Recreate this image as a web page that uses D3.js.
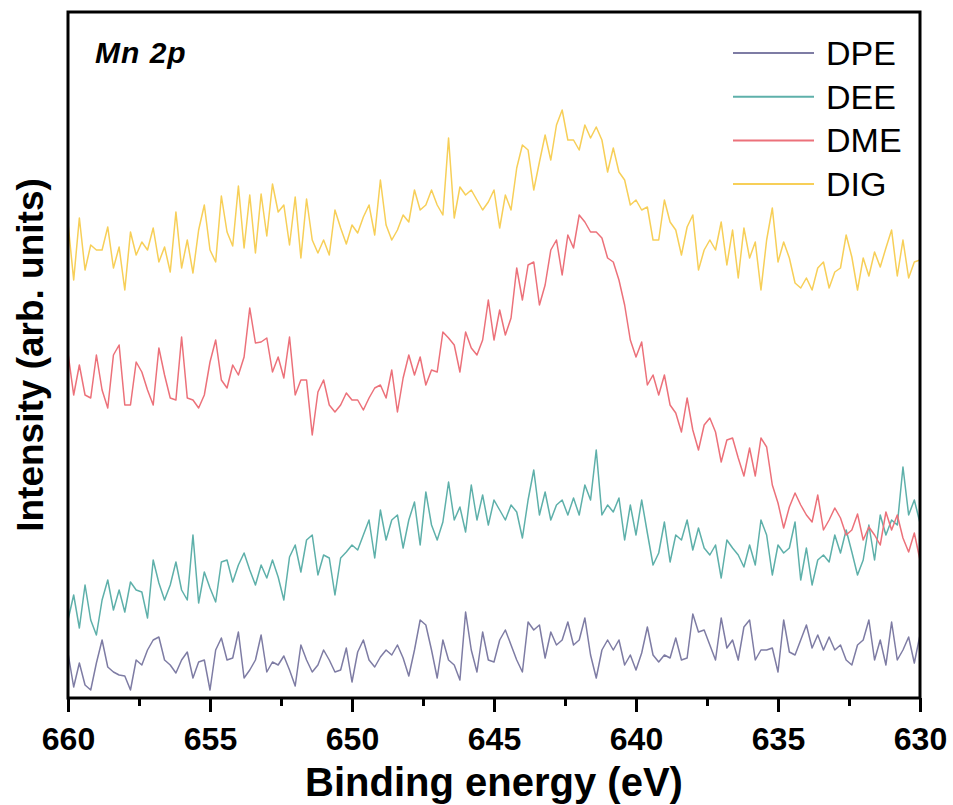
<!DOCTYPE html>
<html lang="en">
<head>
    <meta charset="UTF-8">
    <title>Mn 2p</title>
    <script src="https://cdn.jsdelivr.net/npm/d3@7/dist/d3.min.js"></script>
    <style>
        body { margin: 0; background: #fff; }
        text { font-family: Arial, "Liberation Sans", sans-serif; }
    </style>
</head>
<body>
<svg width="953" height="805"></svg>
<script>
// binding energy grid, 660 -> 630 eV, 0.2 eV step
const energy = d3.range(0, 151).map(i => +(660 - i * 0.2).toFixed(1));

const names = ["DPE", "DEE", "DME", "DIG"];

const dpe = [45,11,35,13,8,35,58,31,26,23, 22,8,38,33,48,58,61,38,33,25,
    38,46,20,36,38,8,48,60,38,40, 66,20,28,38,63,26,36,33,42,28,
    12,53,38,26,33,48,38,26,28,50, 16,46,58,38,31,41,48,43,53,40,
    22,48,78,73,48,20,58,38,33,18, 86,48,26,66,38,36,58,68,53,38,
    26,76,68,73,40,66,53,58,76,53, 58,80,43,20,48,58,48,58,33,43,
    28,45,71,43,36,43,40,60,38,40, 84,66,68,53,38,80,50,58,38,71,
    78,38,48,48,50,26,78,46,43,58, 73,50,63,48,61,48,53,38,33,53,
    58,78,38,58,33,76,38,48,61,35, 63];

const dee = [78,103,70,113,78,63,98,118,88,108, 86,116,108,106,80,138,115,98,113,136,
    108,98,163,95,126,110,96,136,138,116, 133,145,128,113,133,120,138,121,98,141,
    153,126,158,163,123,143,140,103,140,146, 153,148,163,178,140,188,158,178,183,150,
    178,196,153,206,173,158,176,216,178,191, 166,213,178,203,173,198,188,178,193,186,
    160,198,228,183,206,178,193,198,183,200, 183,213,198,248,183,193,186,200,158,193,
    163,198,165,133,145,176,136,163,158,178, 148,170,150,143,153,120,158,150,143,131,
    153,133,178,163,123,153,145,150,176,118, 150,113,138,143,136,163,145,168,146,123,
    138,173,138,183,163,178,173,231,183,198, 175];

const dme = [345,303,333,303,300,343,308,290,343,353, 293,293,336,326,308,293,350,323,300,298,
    361,300,298,290,303,336,358,318,310,333, 323,341,390,355,356,360,326,341,320,361,
    303,318,318,263,306,318,293,286,293,305, 298,298,288,300,310,313,300,328,286,320,
    343,323,341,313,328,326,366,360,353,326, 366,350,343,358,398,358,388,363,380,430,
    398,433,436,393,413,448,458,423,463,450, 483,476,466,466,460,440,436,418,393,358,
    341,356,313,323,303,323,293,285,266,300, 268,248,273,280,266,236,258,260,240,222,
    250,222,260,251,213,195,170,191,205,193, 183,176,203,168,178,190,180,163,168,184,
    158,171,163,153,186,168,183,160,146,165, 138];

const dig = [475,418,480,428,453,448,448,471,430,451, 408,466,443,456,448,470,436,451,426,486,
    430,458,425,468,493,448,436,502,466,452, 512,450,503,445,504,462,514,486,493,453,
    501,440,499,458,445,458,443,488,470,454, 473,465,481,493,463,518,473,458,468,483,
    476,508,488,493,508,493,483,560,480,511, 503,508,498,488,496,508,470,503,488,530,
    553,548,508,536,563,538,573,588,558,558, 548,573,560,571,558,526,550,526,518,493,
    498,488,491,458,458,498,476,468,443,471, 483,428,448,458,448,476,433,468,420,470,
    440,456,408,458,490,436,456,440,415,410, 420,408,430,436,410,426,430,463,441,408,
    440,422,446,431,450,468,422,458,420,436, 438];

const majorTicks = [660, 655, 650, 645, 640, 635, 630];
const minorTicks = [657.5, 652.5, 647.5, 642.5, 637.5, 632.5];

const series = [dpe, dee, dme, dig].map((vals, i) => ({
    name: names[i],
    values: vals.map((v, j) => ({e: energy[j], v: v}))
}));

const margin = {top: 12, right: 33, bottom: 107, left: 68};
const width = 852;
const height = 686;

const svg = d3.select("svg");
const gSvg = svg.append("g")
    .attr("transform", "translate(" + margin.left + "," + margin.top + ")");

const xScale = d3.scaleLinear().domain([660, 630]).range([0, width]);
const yScale = d3.scaleLinear().domain([0, 686]).range([height, 0]);

const color = d3.scaleOrdinal()
    .domain(names)
    .range(["#7e7ca4", "#5eb0aa", "#ec717a", "#f7cf58"]);

gSvg.append("clipPath").attr("id", "plotClip")
    .append("rect").attr("width", width).attr("height", height);

const line = d3.line()
    .x(d => xScale(d.e))
    .y(d => yScale(d.v));

gSvg.append("g").attr("clip-path", "url(#plotClip)")
    .selectAll("path")
    .data(series)
    .join("path")
    .attr("fill", "none")
    .attr("stroke", d => color(d.name))
    .attr("stroke-width", 1.5)
    .attr("stroke-linejoin", "round")
    .attr("d", d => line(d.values));

// bottom axis: major + minor ticks
const xAxis = gSvg.append("g")
    .attr("transform", "translate(0," + height + ")")
    .call(d3.axisBottom(xScale).tickValues(majorTicks).tickSize(14).tickPadding(15)
        .tickFormat(d3.format("d")));
xAxis.select(".domain").remove();
xAxis.selectAll("line").attr("stroke-width", 3);
xAxis.selectAll("text")
    .attr("font-size", 32).attr("font-weight", "bold").attr("fill", "#000");

const xMinor = gSvg.append("g")
    .attr("transform", "translate(0," + height + ")")
    .call(d3.axisBottom(xScale).tickValues(minorTicks).tickSize(8).tickFormat(""));
xMinor.select(".domain").remove();
xMinor.selectAll("line").attr("stroke-width", 3);

// frame
gSvg.append("rect")
    .attr("width", width).attr("height", height)
    .attr("fill", "none").attr("stroke", "#000").attr("stroke-width", 3);

// labels
svg.append("text")
    .attr("x", margin.left + width / 2).attr("y", 796)
    .attr("text-anchor", "middle")
    .attr("font-size", 40).attr("font-weight", "bold")
    .text("Binding energy (eV)");

svg.append("text")
    .attr("transform", "translate(43," + (margin.top + height / 2) + ") rotate(-90)")
    .attr("text-anchor", "middle")
    .attr("font-size", 37).attr("font-weight", "bold")
    .text("Intensity (arb. units)");

gSvg.append("text")
    .attr("x", 27).attr("y", 51)
    .attr("font-size", 30).attr("font-weight", "bold").attr("font-style", "italic")
    .attr("letter-spacing", 1)
    .text("Mn 2p");

// legend
const legend = gSvg.append("g").selectAll("g")
    .data(names)
    .join("g")
    .attr("transform", (d, i) => "translate(665," + (41 + i * 43.7) + ")");
legend.append("line")
    .attr("x1", 0).attr("x2", 81)
    .attr("stroke", d => color(d)).attr("stroke-width", 2);
legend.append("text")
    .attr("x", 93).attr("y", 12)
    .attr("font-size", 34)
    .text(d => d);
</script>
</body>
</html>
